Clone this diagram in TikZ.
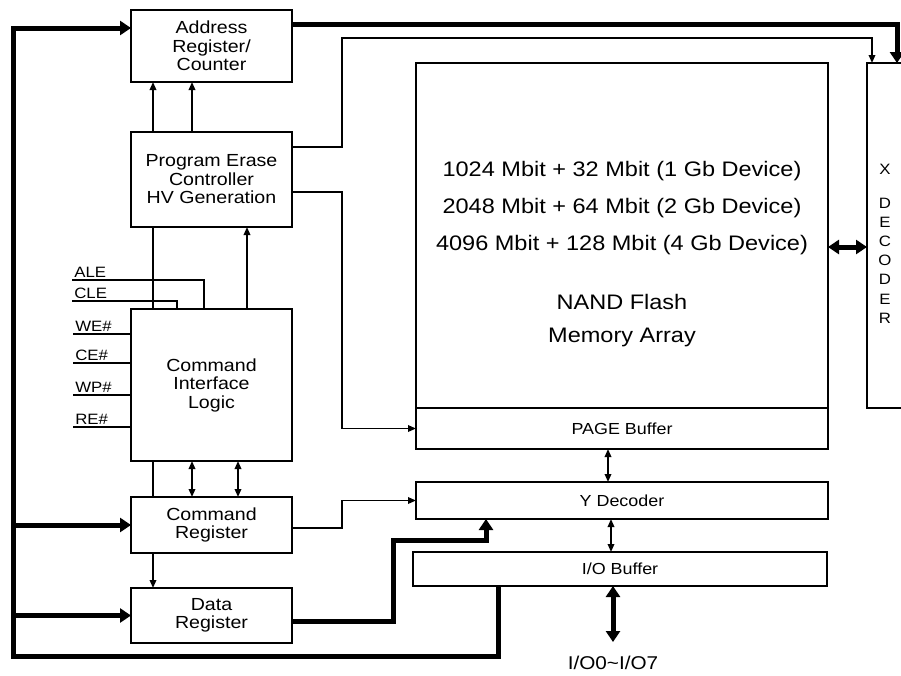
\documentclass[tikz,border=0pt]{standalone}
\usepackage{fontspec}
\setmainfont{Liberation Sans}[FakeStretch=1.12]
\usetikzlibrary{arrows.meta, positioning, calc}
\tikzset{
  blk/.style={rectangle, draw, line width=2.6pt, inner sep=0pt, outer sep=0pt,
    align=center, font=\fontsize{17.5}{18.5}\selectfont},
  wire/.style={line width=1.7pt},
  arrw/.style={wire, -{Triangle[width=6.5pt,length=8pt]}},
  darrw/.style={wire, {Triangle[width=6.5pt,length=8pt]}-{Triangle[width=6.5pt,length=8pt]}},
  bus/.style={line width=5pt},
  busarrow/.style={bus, -{Triangle[width=14pt,length=11pt]}},
  dbusarrow/.style={bus, {Triangle[width=14pt,length=11pt]}-{Triangle[width=14pt,length=11pt]}},
  pinlbl/.style={font=\fontsize{15}{16}\selectfont, anchor=south west, inner sep=1.5pt},
  smalltxt/.style={font=\fontsize{16}{18}\selectfont},
}
\begin{document}
\begin{tikzpicture}[x=1pt, y=-1pt]
\useasboundingbox (0,0) rectangle (901,675);
% control blocks
\node[blk, minimum width=161pt, minimum height=72pt] (addr) at (211.5,46) {Address\\Register/\\Counter};
\node[blk, minimum width=161pt, minimum height=95pt] (pec) at (211.5,179.5) {Program Erase\\Controller\\HV Generation};
\node[blk, minimum width=161pt, minimum height=152pt] (cil) at (211.5,385) {Command\\Interface\\Logic};
\node[blk, minimum width=161pt, minimum height=56pt] (cmdreg) at (211.5,525) {Command\\Register};
\node[blk, minimum width=161pt, minimum height=55pt] (datareg) at (211.5,615.5) {Data\\Register};
% memory side
\node[blk, minimum width=412pt, minimum height=345pt] (array) at (622,235.5) {};
\node[blk, smalltxt, minimum width=412pt, minimum height=41pt] (page) at (622,428.5) {PAGE Buffer};
\node[blk, smalltxt, minimum width=412pt, minimum height=37pt] (ydec) at (622,500.5) {Y Decoder};
\node[blk, smalltxt, minimum width=414pt, minimum height=34pt] (iobuf) at (620,569) {I/O Buffer};
\node[blk, minimum width=60pt, minimum height=345pt] (xdec) at (897,235.5) {};
\node[font=\fontsize{21}{37}\selectfont, align=center] (size) at (622,208)
  {1024 Mbit + 32 Mbit (1 Gb Device)\\2048 Mbit + 64 Mbit (2 Gb Device)\\4096 Mbit + 128 Mbit (4 Gb Device)};
\node[font=\fontsize{21}{33}\selectfont, align=center] (nand) at (622,321) {NAND Flash\\Memory Array};
\node[font=\fontsize{15}{19.2}\selectfont, align=center] (xlbl) at (885,244) {X\\[14pt]D\\E\\C\\O\\D\\E\\R};

% turning points
\coordinate (pecturn) at (342,38);
\coordinate (busl) at (13,656);
\coordinate (iopin) at (613,642);
\node[below=11pt of iopin, font=\fontsize{18.5}{20}\selectfont] (iolbl) {I/O0\textasciitilde I/O7};

% buses
\draw[busarrow] ([yshift=-14pt]addr.north east) -| ([xshift=30pt]xdec.north west);
\draw[busarrow] ([yshift=-5.5pt]datareg.east) -- ++(101,0) -- ++(0,-81) -| ([xshift=70pt]ydec.south west);
\draw[busarrow] ([xshift=85pt]iobuf.south west) |- (busl) |- ([yshift=-18pt]addr.north west);
\draw[busarrow] (busl |- cmdreg.west) -- (cmdreg.west);
\draw[busarrow] (busl |- datareg.west) -- (datareg.west);
\draw[dbusarrow] ([yshift=-11.5pt]array.east) -- ([yshift=-11.5pt]array.east -| xdec.west);
\draw[dbusarrow] (iobuf.south -| iopin) -- (iopin);

% controller wiring
\draw[arrw] ([yshift=-15pt]pec.north east) -| (pecturn) -| ([xshift=5pt]xdec.north west);
\draw[arrw] ([yshift=-60pt]pec.north east) -| (pecturn |- page.west) -- (page.west);
\draw[arrw] ([yshift=-3pt]cmdreg.east) -| (pecturn |- ydec.west) -- (ydec.west);
\foreach \dx in {22,61}
  \draw[arrw] ([xshift=\dx pt]pec.north west) -- ([xshift=\dx pt]addr.south west);
\draw[wire] ([xshift=22pt]pec.south west) -- ([xshift=22pt]cil.north west);
\draw[arrw] ([xshift=116pt]cil.north west) -- ([xshift=116pt]pec.south west);
\draw[wire] ([xshift=22pt]cil.south west) -- ([xshift=22pt]cmdreg.north west);
\foreach \dx in {61,107}
  \draw[darrw] ([xshift=\dx pt]cil.south west) -- ([xshift=\dx pt]cmdreg.north west);
\draw[arrw] ([xshift=22pt]cmdreg.south west) -- ([xshift=22pt]datareg.north west);
\draw[darrw] ([xshift=192pt]page.south west) -- ([xshift=192pt]ydec.north west);
\draw[darrw] ([xshift=195pt]ydec.south west) -- ([xshift=195pt]ydec.south west |- iobuf.north);

% control pins
\coordinate (ale) at (72,280);
\coordinate (cle) at (72,301);
\draw[wire] (ale) node[pinlbl] {ALE} -| ([xshift=73pt]cil.north west);
\draw[wire] (cle) node[pinlbl] {CLE} -| ([xshift=46pt]cil.north west);
\foreach \pin/\sig/\y in {we/WE/334, ce/CE/363, wp/WP/395, re/RE/427} {
  \coordinate (\pin) at (73,\y);
  \draw[wire] (\pin) node[pinlbl] {\sig\#} -- (cil.west |- \pin);
}
\end{tikzpicture}
\end{document}
